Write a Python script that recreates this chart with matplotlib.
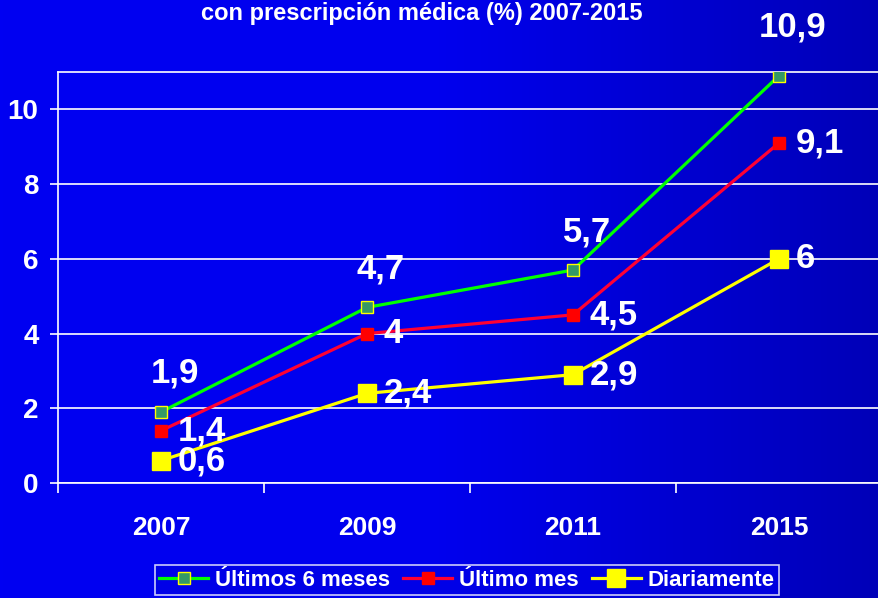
import numpy as np
import matplotlib
matplotlib.use('Agg')
import matplotlib.pyplot as plt
from matplotlib.colors import LinearSegmentedColormap

plt.rcParams['font.family'] = ['Liberation Sans', 'DejaVu Sans']
plt.rcParams['font.weight'] = 'bold'

years = ['2007', '2009', '2011', '2015']
ultimos_6_meses = [1.9, 4.7, 5.7, 10.9]
ultimo_mes = [1.4, 4.0, 4.5, 9.1]
diariamente = [0.6, 2.4, 2.9, 6.0]
labels_6m = ['1,9', '4,7', '5,7', '10,9']
labels_mes = ['1,4', '4', '4,5', '9,1']
labels_dia = ['0,6', '2,4', '2,9', '6']
y_ticks = [0, 2, 4, 6, 8, 10]

fig = plt.figure(figsize=(8.79, 5.98), dpi=100)

# background gradient, bright blue on the left to darker on the right
bg = fig.add_axes([0, 0, 1, 1], zorder=-1)
cmap = LinearSegmentedColormap.from_list('bg', ['#0000F2', '#0000EE', '#0000B8'])
bg.imshow(np.linspace(0, 1, 256).reshape(1, -1), cmap=cmap, aspect='auto',
          extent=[0, 1, 0, 1])
bg.axis('off')

ax = fig.add_axes([0.066, 0.1923, 0.9374, 0.6873])
ax.set_facecolor('none')
x = np.arange(len(years))

ax.plot(x, ultimos_6_meses, color='#00FF00', lw=2.3, marker='s', ms=8.5,
        mfc='#339966', mec='#FFFF00', mew=1, label='Últimos 6 meses', zorder=3)
ax.plot(x, ultimo_mes, color='#FF0033', lw=2.3, marker='s', ms=8.5,
        mfc='#FF0000', mec='#FF0000', label='Último mes', zorder=3)
ax.plot(x, diariamente, color='#FFFF00', lw=2.3, marker='s', ms=13,
        mfc='#FFFF00', mec='#FFFF00', label='Diariamente', zorder=3)

lab_kw = dict(textcoords='offset points', color='white', fontsize=25,
              fontweight='bold', zorder=4)
# the last green label sits a little higher in the original
green_dy = [21.5, 21, 20.5, 28]
for xi, v, t, dy in zip(x, ultimos_6_meses, labels_6m, green_dy):
    ax.annotate(t, (xi, v), xytext=(10, dy), ha='center', va='baseline',
                **lab_kw)
for xi, v, t in zip(x, ultimo_mes, labels_mes):
    ax.annotate(t, (xi, v), xytext=(12, 0), ha='left', va='center', **lab_kw)
for xi, v, t in zip(x, diariamente, labels_dia):
    ax.annotate(t, (xi, v), xytext=(12, 0), ha='left', va='center', **lab_kw)

ax.set_xlim(-0.5, 3.5)
ax.set_ylim(0, 11)
ax.set_yticks(y_ticks)
ax.set_yticklabels([str(t) for t in y_ticks], fontsize=20, color='white',
                   fontweight='bold')
ax.set_xticks(x)
ax.set_xticklabels(years, fontsize=19, color='white', fontweight='bold')
ax.set_xticks(np.arange(-0.5, 3.6, 1), minor=True)
ax.tick_params(axis='x', which='major', length=0, pad=24)
ax.tick_params(axis='x', which='minor', length=7, color='white', width=1.2)
ax.tick_params(axis='y', length=6, color='white', width=1.2, pad=8)
ax.yaxis.grid(True, color='white', lw=1.2)
ax.set_axisbelow(True)
for s in ax.spines.values():
    s.set_color('white')
    s.set_linewidth(1.2)

fig.text(0.48, 0.978, 'con prescripción médica (%) 2007-2015', ha='center',
         va='center', color='white', fontsize=17, fontweight='bold')

leg = fig.legend(loc='upper center', bbox_to_anchor=(0.531, 0.055), ncol=3,
                 frameon=True, fontsize=16, handlelength=2.2,
                 handletextpad=0.3, columnspacing=0.6, borderpad=0.2,
                 borderaxespad=0, fancybox=False)
leg.get_frame().set_facecolor('#0000E6')
leg.get_frame().set_edgecolor('white')
leg.get_frame().set_linewidth(1.2)
for t in leg.get_texts():
    t.set_color('white')
    t.set_fontweight('bold')

fig.savefig('out.png', dpi=100)
